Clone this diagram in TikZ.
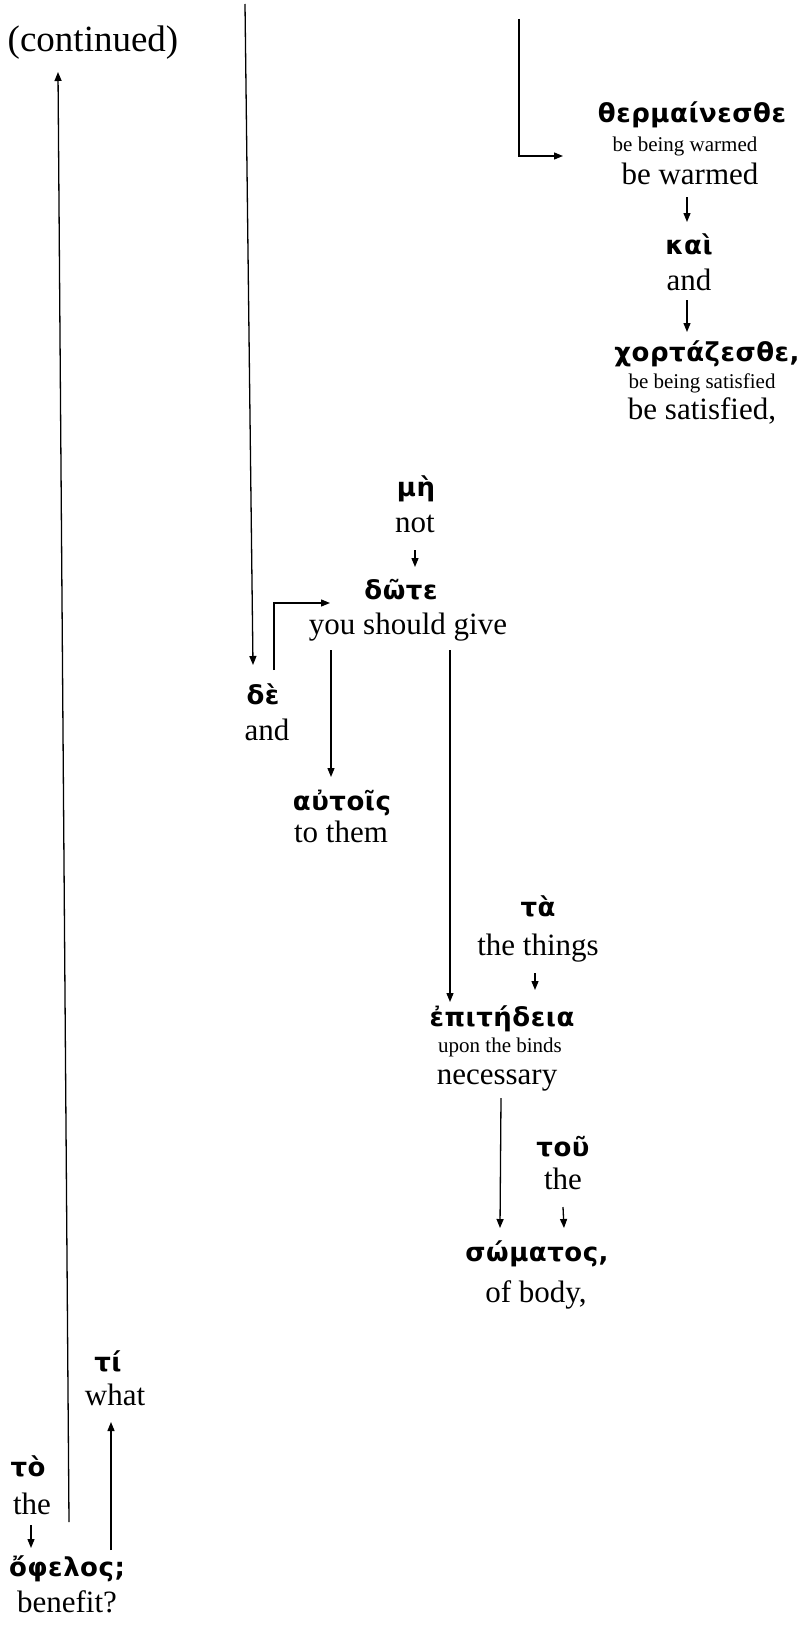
\documentclass[tikz,border=0pt]{standalone}
\usepackage{fontspec}
\setmainfont{Liberation Serif}
\newfontfamily\gkfont[LetterSpace=2]{DejaVu Sans}
\usetikzlibrary{arrows.meta,calc}
\tikzset{
  gk/.style={font=\gkfont\bfseries\fontsize{26}{30}\selectfont, inner sep=0pt, text height=18pt, text depth=5pt},
  gl/.style={font=\fontsize{31}{36}\selectfont, inner sep=0pt, text height=21pt, text depth=7pt},
  sm/.style={font=\fontsize{21}{25}\selectfont, inner sep=0pt, text height=14pt, text depth=5pt},
  ct/.style={font=\fontsize{37}{42}\selectfont, inner sep=0pt},
  arr/.style={line width=1.3pt, -{Triangle[length=9pt,width=7pt]}}
}
\begin{document}
\begin{tikzpicture}[x=1pt,y=-1pt]
\fill[white] (0,0) rectangle (800,1627);
\useasboundingbox (0,0) rectangle (800,1627);

% nodes
\node[ct] (cont) at (93,43) {(continued)};

\node[gk] (therm) at (692,116) {θερμαίνεσθε};
\node[sm] (therm2) at (685,147) {be being warmed};
\node[gl] (therm3) at (690,177) {be warmed};
\node[gk] (kai) at (689,248) {καὶ};
\node[gl] (kai2) at (689,283) {and};
\node[gk] (chort) at (707,355) {χορτάζεσθε,};
\node[sm] (chort2) at (702,384) {be being satisfied};
\node[gl] (chort3) at (702,412) {be satisfied,};

\node[gk] (me) at (416,490) {μὴ};
\node[gl] (me2) at (415,525) {not};
\node[gk] (dote) at (401,593) {δῶτε};
\node[gl] (dote2) at (408,627) {you should give};
\node[gk] (de) at (263,698) {δὲ};
\node[gl] (de2) at (267,733) {and};
\node[gk] (aut) at (342,804) {αὐτοῖς};
\node[gl] (aut2) at (341,835) {to them};

\node[gk] (ta) at (538,910) {τὰ};
\node[gl] (ta2) at (538,948) {the things};
\node[gk] (epi) at (502,1020) {ἐπιτήδεια};
\node[sm] (epi2) at (500,1048) {upon the binds};
\node[gl] (epi3) at (497,1077) {necessary};
\node[gk] (tou) at (563,1150) {τοῦ};
\node[gl] (tou2) at (563,1182) {the};
\node[gk] (som) at (537,1255) {σώματος,};
\node[gl] (som2) at (536,1295) {of body,};

\node[gk] (ti) at (108,1365) {τί};
\node[gl] (ti2) at (115,1398) {what};
\node[gk] (to) at (28,1470) {τὸ};
\node[gl] (to2) at (32,1507) {the};
\node[gk] (oph) at (67,1570) {ὄφελος;};
\node[gl] (oph2) at (67,1605) {benefit?};

% free ends (continued from previous part)
\coordinate (topA) at (245,4);
\coordinate (topB) at (519,19);

% connectors
\draw[arr] (topA) -- ($(de.center)+(-10,-33)$);
\draw[arr] (topB) |- ($(therm.center)+(-129,40)$);
\draw[arr] ($(therm3.center)+(-3,20)$) -- ($(kai.center)+(-2,-26)$);
\draw[arr] ($(kai2.center)+(-2,17)$) -- ($(chort.center)+(-20,-23)$);
\draw[arr] ($(me2.center)+(0,25)$) -- ($(dote.center)+(14,-26)$);
\draw[arr] ($(de.center)+(11,-28)$) |- ($(dote.center)+(-71,10)$);
\draw[arr] ($(dote2.center)+(-77,23)$) -- ($(aut.center)+(-11,-27)$);
\draw[arr] ($(dote2.center)+(42,23)$) -- ($(epi.center)+(-52,-18)$);
\draw[arr] ($(ta2.center)+(-3,25)$) -- ($(epi.center)+(33,-30)$);
\draw[arr] ($(epi3.center)+(4,21)$) -- ($(som.center)+(-37,-27)$);
\draw[arr] ($(tou2.center)+(0,25)$) -- ($(som.center)+(27,-27)$);
\draw[arr] ($(oph.center)+(44,-20)$) -- ($(ti2.center)+(-4,24)$);
\draw[arr] ($(to2.center)+(-1,18)$) -- ($(oph.center)+(-36,-22)$);
\draw[arr] ($(oph.center)+(2,-48)$) -- ($(cont.center)+(-35,29)$);
\end{tikzpicture}
\end{document}
